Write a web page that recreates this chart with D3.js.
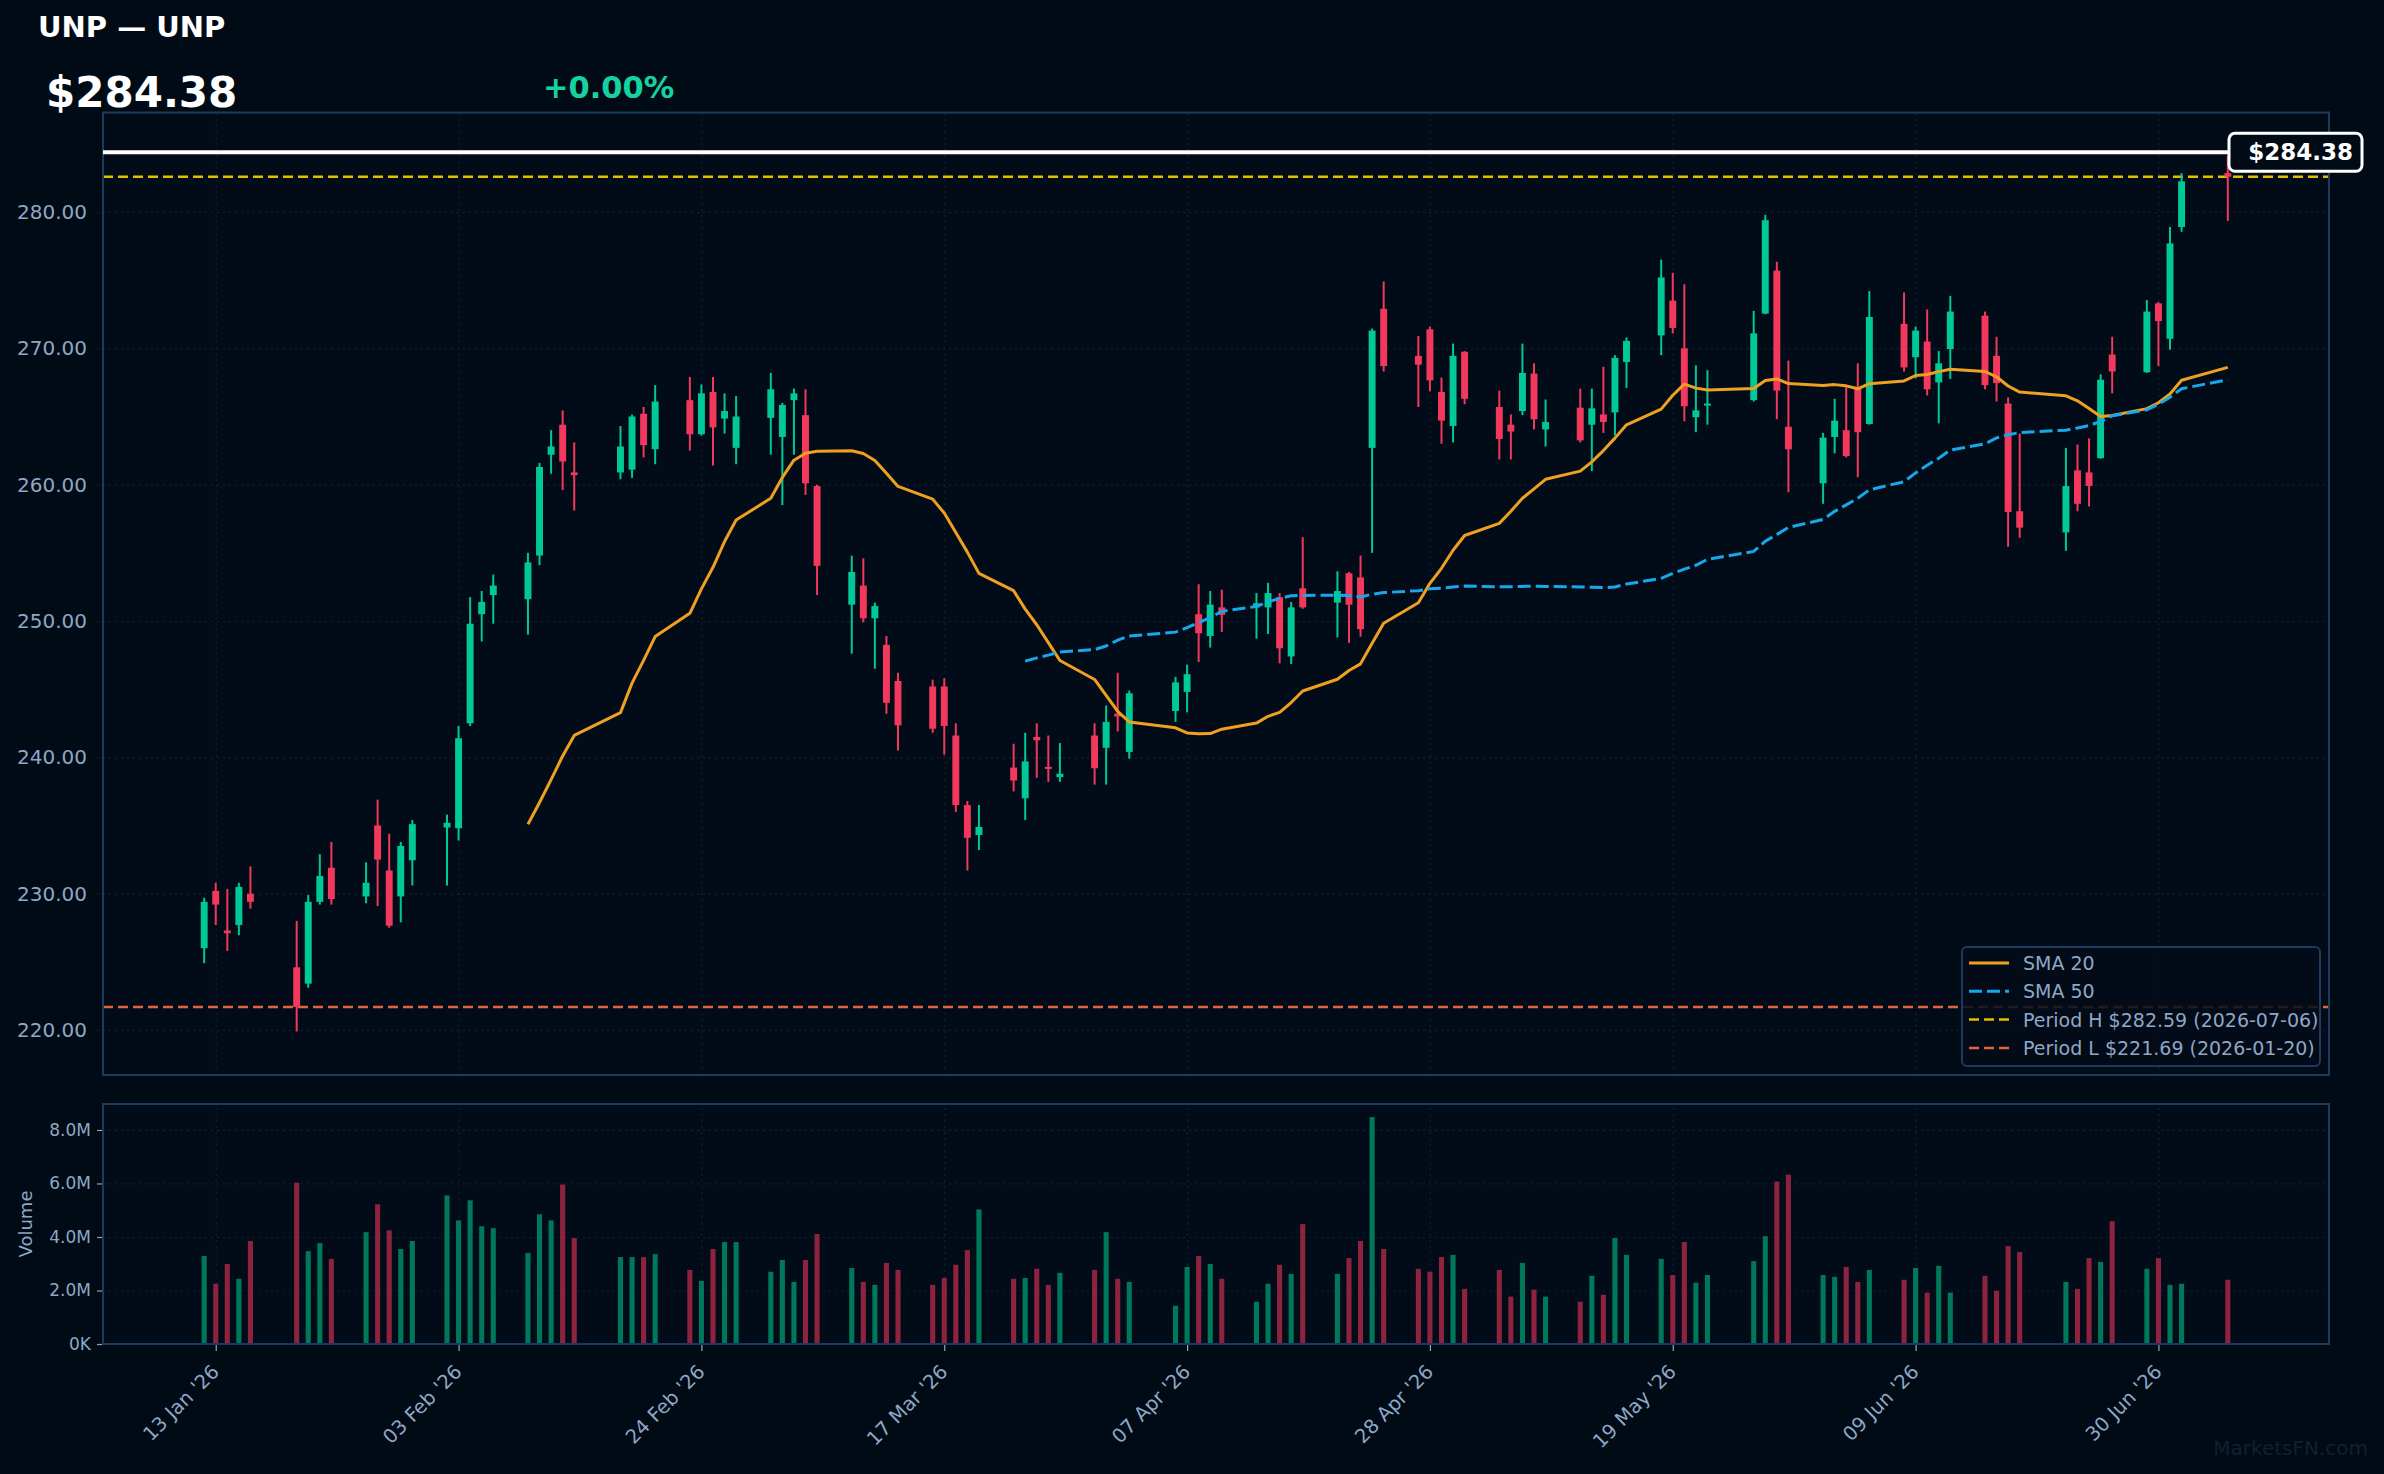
<!DOCTYPE html>
<html><head><meta charset="utf-8">
<script src="https://cdn.jsdelivr.net/npm/d3@7"></script>
<style>html,body{margin:0;padding:0;background:#010b16;}svg{display:block;}</style>
</head><body>
<svg id="chart" width="2384" height="1474"></svg>
<script>
// ---------- data ----------
const dates = [
"2026-01-12","2026-01-13","2026-01-14","2026-01-15","2026-01-16","2026-01-20","2026-01-21","2026-01-22","2026-01-23",
"2026-01-26","2026-01-27","2026-01-28","2026-01-29","2026-01-30",
"2026-02-02","2026-02-03","2026-02-04","2026-02-05","2026-02-06","2026-02-09","2026-02-10","2026-02-11","2026-02-12","2026-02-13",
"2026-02-17","2026-02-18","2026-02-19","2026-02-20","2026-02-23","2026-02-24","2026-02-25","2026-02-26","2026-02-27",
"2026-03-02","2026-03-03","2026-03-04","2026-03-05","2026-03-06","2026-03-09","2026-03-10","2026-03-11","2026-03-12","2026-03-13",
"2026-03-16","2026-03-17","2026-03-18","2026-03-19","2026-03-20","2026-03-23","2026-03-24","2026-03-25","2026-03-26","2026-03-27",
"2026-03-30","2026-03-31","2026-04-01","2026-04-02",
"2026-04-06","2026-04-07","2026-04-08","2026-04-09","2026-04-10","2026-04-13","2026-04-14","2026-04-15","2026-04-16","2026-04-17",
"2026-04-20","2026-04-21","2026-04-22","2026-04-23","2026-04-24","2026-04-27","2026-04-28","2026-04-29","2026-04-30","2026-05-01",
"2026-05-04","2026-05-05","2026-05-06","2026-05-07","2026-05-08","2026-05-11","2026-05-12","2026-05-13","2026-05-14","2026-05-15",
"2026-05-18","2026-05-19","2026-05-20","2026-05-21","2026-05-22","2026-05-26","2026-05-27","2026-05-28","2026-05-29",
"2026-06-01","2026-06-02","2026-06-03","2026-06-04","2026-06-05","2026-06-08","2026-06-09","2026-06-10","2026-06-11","2026-06-12",
"2026-06-15","2026-06-16","2026-06-17","2026-06-18","2026-06-22","2026-06-23","2026-06-24","2026-06-25","2026-06-26",
"2026-06-29","2026-06-30","2026-07-01","2026-07-02","2026-07-06"];

const open = [226.0,230.2,227.3,227.7,230.0,224.6,223.4,229.4,231.9,229.8,235.0,231.7,229.8,232.45,
234.85,234.8,242.5,250.5,251.9,251.6,254.8,262.2,264.4,260.9,260.9,261.1,265.2,262.6,266.2,263.7,266.8,264.85,262.7,
264.9,263.5,266.2,265.1,259.9,251.2,252.6,250.2,248.25,245.6,245.2,245.2,241.6,236.5,234.3,239.25,237.0,241.5,239.3,238.55,241.6,240.7,
243.2,240.4,243.4,244.8,250.5,248.9,251.0,251.0,251.0,251.75,247.4,252.4,251.35,253.5,253.2,262.7,272.9,269.45,271.4,266.8,264.3,
269.75,265.7,264.4,265.4,268.15,264.05,265.65,264.4,265.15,265.3,269.0,270.95,273.5,270.0,264.95,265.85,266.2,272.55,275.7,264.25,
260.1,263.5,264.0,267.15,264.45,271.8,269.35,270.5,267.5,269.95,272.4,269.45,265.95,258.05,256.5,261.05,260.9,261.95,269.55,
268.25,273.3,270.7,278.9,282.85];
const high = [229.7,230.8,230.35,230.8,232.0,228.0,229.9,232.9,233.8,232.3,236.9,234.4,233.8,235.4,
235.8,242.3,251.75,252.2,253.4,255.0,261.6,264.0,265.45,263.1,264.3,265.15,265.7,267.3,267.9,267.35,267.9,266.7,266.5,
268.2,266.0,267.05,267.0,260.0,254.8,254.6,251.35,248.9,246.2,245.7,245.8,242.5,236.8,236.5,241.0,241.8,242.5,241.6,241.05,242.5,243.8,
246.2,244.9,245.9,246.8,252.7,252.2,252.3,252.05,252.8,252.05,251.4,256.15,253.65,253.6,254.8,271.45,274.9,270.9,271.6,267.85,270.35,
269.8,266.9,265.15,270.35,268.9,266.25,267.05,267.05,268.65,269.5,270.8,276.5,275.55,274.7,268.75,268.4,272.75,279.8,276.35,269.1,
263.8,266.3,267.3,268.9,274.2,274.1,271.6,272.85,269.8,273.85,272.7,270.85,266.4,263.75,262.7,262.95,263.4,268.1,270.85,
273.55,273.4,278.9,282.85,284.1];
const low = [224.9,227.7,225.8,226.95,228.9,219.9,223.1,229.2,229.2,229.3,229.1,227.5,227.9,230.6,
230.6,233.9,242.3,248.5,249.8,249.0,254.1,260.8,259.6,258.1,260.4,260.5,262.0,261.5,262.5,263.6,261.4,263.75,261.5,
262.2,258.5,262.2,259.25,251.9,247.6,249.9,246.5,243.2,240.5,241.8,240.2,236.0,231.7,233.2,237.5,235.4,238.5,238.2,238.2,238.0,238.0,
241.9,239.9,242.6,243.3,247.0,248.05,249.2,248.7,249.05,246.9,246.85,250.9,248.8,248.4,248.85,255.0,268.3,265.7,266.85,263.0,263.1,
265.9,261.85,261.85,265.1,264.05,262.8,263.1,261.0,263.8,263.6,267.1,269.5,271.1,264.65,263.85,264.4,266.1,272.5,264.8,259.45,
258.6,262.3,262.0,260.55,264.4,268.3,267.8,266.55,264.5,267.75,267.0,266.1,255.45,256.1,255.15,258.05,258.4,261.9,266.7,
268.2,268.7,269.9,278.55,279.35];
const close = [229.4,229.2,227.1,230.5,229.4,221.69,229.4,231.3,229.6,230.8,232.5,227.65,233.5,235.1,
235.2,241.4,249.8,251.4,252.6,254.3,261.3,262.8,261.7,260.7,262.8,265.0,262.9,266.1,263.7,266.7,264.2,265.4,265.0,
267.0,265.85,266.7,260.1,254.05,253.6,250.2,251.1,244.0,242.35,242.1,242.3,236.5,234.1,234.9,238.3,239.7,241.25,239.15,238.8,239.2,242.6,
243.0,244.7,245.5,246.1,249.1,251.2,250.45,251.3,252.05,248.0,251.0,251.0,252.2,251.2,249.4,271.3,268.7,268.8,267.65,264.7,269.45,
266.3,263.35,263.9,268.2,264.8,264.6,263.25,265.6,264.6,269.3,270.55,275.2,271.5,265.75,265.45,265.95,271.1,279.4,266.9,262.6,
263.45,264.7,262.1,263.85,272.3,268.6,271.3,267.0,268.9,272.7,267.3,267.45,258.0,256.85,259.9,258.6,259.9,267.7,268.3,
272.7,272.0,277.7,282.25,282.59];
// volume in millions
const volume = [3.29,2.25,2.99,2.44,3.85,6.03,3.47,3.77,3.18,4.18,5.22,4.25,3.55,3.85,
5.55,4.62,5.37,4.40,4.33,3.40,4.85,4.62,5.96,3.96,3.25,3.25,3.25,3.36,2.77,2.36,3.55,3.81,3.81,
2.70,3.14,2.32,3.14,4.11,2.84,2.32,2.21,3.03,2.77,2.21,2.47,2.96,3.51,5.03,2.44,2.47,2.81,2.21,2.66,2.77,4.18,
2.44,2.32,1.43,2.88,3.29,2.99,2.44,1.58,2.25,2.96,2.62,4.48,2.62,3.21,3.85,8.48,3.55,2.81,2.70,3.25,3.33,
2.06,2.77,1.77,3.03,2.03,1.77,1.58,2.55,1.84,3.96,3.33,3.18,2.58,3.81,2.29,2.58,3.10,4.03,6.07,6.33,
2.58,2.51,2.88,2.32,2.77,2.40,2.84,1.92,2.92,1.92,2.55,1.99,3.66,3.44,2.32,2.06,3.21,3.07,4.59,
2.81,3.21,2.21,2.25,2.40];

const xTickDates = ["2026-01-13","2026-02-03","2026-02-24","2026-03-17","2026-04-07","2026-04-28","2026-05-19","2026-06-09","2026-06-30"];
const xTickLabels = ["13 Jan '26","03 Feb '26","24 Feb '26","17 Mar '26","07 Apr '26","28 Apr '26","19 May '26","09 Jun '26","30 Jun '26"];
const priceTicks = [220,230,240,250,260,270,280];
const volTicks = [0,2,4,6,8];
const volTickLabels = ["0K","2.0M","4.0M","6.0M","8.0M"];

const lastPrice = 284.38;
const periodHigh = 282.59, periodHighDate = "2026-07-06";
const periodLow = 221.69, periodLowDate = "2026-01-20";

// ---------- setup ----------
const C = {bg:"#010b16", frame:"#1d3a5e", grid:"#122031", text:"#8fa7c5", up:"#00c896", down:"#f2385c",
  sma20:"#f0a020", sma50:"#16a8ea", hi:"#e2c000", lo:"#e4653a"};
const svg = d3.select("#chart");
const parse = d3.utcParse("%Y-%m-%d");
const D = dates.map(parse);
const DAY = 864e5;
const PL = 103, PR = 2329, PT = 112.5, PB = 1075, VT = 1104, VB = 1344;

const x = d3.scaleUtc().domain([new Date(+D[0]-8.75*DAY), new Date(+D[D.length-1]+8.75*DAY)]).range([PL, PR]);
const y = d3.scaleLinear().domain([216.7, 287.3]).range([PB, PT]);
const yv = d3.scaleLinear().domain([0, 8.97]).range([VB, VT]);

svg.append("rect").attr("width",2384).attr("height",1474).attr("fill",C.bg);
svg.append("rect").attr("x",PL).attr("y",PT).attr("width",PR-PL).attr("height",PB-PT).attr("fill","#020c18");
svg.append("rect").attr("x",PL).attr("y",VT).attr("width",PR-PL).attr("height",VB-VT).attr("fill","#020c18");

const tickD = xTickDates.map(parse);
function styleGrid(g){ g.select(".domain").remove(); g.selectAll("line").attr("stroke",C.grid).attr("stroke-width",1.2).attr("stroke-dasharray","2,4"); g.selectAll("text").remove(); }
// grids
svg.append("g").attr("transform",`translate(0,${PB})`).call(d3.axisBottom(x).tickValues(tickD).tickSize(-(PB-PT)).tickFormat("")).call(styleGrid);
svg.append("g").attr("transform",`translate(0,${VB})`).call(d3.axisBottom(x).tickValues(tickD).tickSize(-(VB-VT)).tickFormat("")).call(styleGrid);
svg.append("g").attr("transform",`translate(${PL},0)`).call(d3.axisLeft(y).tickValues(priceTicks).tickSize(-(PR-PL)).tickFormat("")).call(styleGrid);
svg.append("g").attr("transform",`translate(${PL},0)`).call(d3.axisLeft(yv).tickValues(volTicks).tickSize(-(PR-PL)).tickFormat("")).call(styleGrid);

// axes labels
const ya = svg.append("g").attr("transform",`translate(${PL},0)`)
  .call(d3.axisLeft(y).tickValues(priceTicks).tickSize(7).tickPadding(9).tickFormat(d3.format(".2f")));
ya.select(".domain").remove();
ya.selectAll("line").attr("stroke","#0b1520").attr("stroke-width",1.5);
ya.selectAll("text").attr("fill",C.text).attr("font-size",20).attr("font-family","DejaVu Sans");

const va = svg.append("g").attr("transform",`translate(${PL},0)`)
  .call(d3.axisLeft(yv).tickValues(volTicks).tickSize(6).tickPadding(6).tickFormat((d,i)=>volTickLabels[i]));
va.select(".domain").remove();
va.selectAll("line").attr("stroke",C.text).attr("stroke-width",1.2);
va.selectAll("text").attr("fill",C.text).attr("font-size",17).attr("font-family","DejaVu Sans");

const xa = svg.append("g").attr("transform",`translate(0,${VB})`)
  .call(d3.axisBottom(x).tickValues(tickD).tickSize(7).tickFormat((d,i)=>xTickLabels[i]));
xa.select(".domain").remove();
xa.selectAll("line").attr("stroke",C.text).attr("stroke-width",1.2);
xa.selectAll("text").attr("fill",C.text).attr("font-size",19.5).attr("font-family","DejaVu Sans")
  .attr("text-anchor","end").attr("dy",null).attr("y",0).attr("x",0)
  .attr("transform","translate(4,29) rotate(-45)");

svg.append("text").attr("transform",`translate(32,${(VT+VB)/2}) rotate(-90)`).attr("text-anchor","middle")
  .attr("fill",C.text).attr("font-size",18).attr("font-family","DejaVu Sans").text("Volume");

// volume bars
const vbw = x(new Date(+D[0]+0.22*DAY)) - x(new Date(+D[0]-0.22*DAY));
svg.append("g").selectAll("rect").data(volume).join("rect")
  .attr("x",(v,i)=>x(D[i])-vbw/2).attr("width",vbw)
  .attr("y",v=>yv(v)).attr("height",v=>yv(0)-yv(v))
  .attr("fill",(v,i)=> close[i]>=open[i] ? "#00785a" : "#8e2340");

// period lines
svg.append("line").attr("x1",PL).attr("x2",PR).attr("y1",y(periodLow)).attr("y2",y(periodLow))
  .attr("stroke",C.lo).attr("stroke-width",2.5).attr("stroke-dasharray","10,5");
svg.append("line").attr("x1",PL).attr("x2",PR).attr("y1",y(periodHigh)).attr("y2",y(periodHigh))
  .attr("stroke",C.hi).attr("stroke-width",2.5).attr("stroke-dasharray","10,5");

// candles
const bw = x(new Date(+D[0]+0.3*DAY)) - x(new Date(+D[0]-0.3*DAY));
const cg = svg.append("g");
cg.selectAll("line").data(dates).join("line")
  .attr("x1",(d,i)=>x(D[i])).attr("x2",(d,i)=>x(D[i]))
  .attr("y1",(d,i)=>y(high[i])).attr("y2",(d,i)=>y(low[i]))
  .attr("stroke",(d,i)=>close[i]>=open[i]?C.up:C.down).attr("stroke-width",2);
cg.selectAll("rect").data(dates).join("rect")
  .attr("x",(d,i)=>x(D[i])-bw/2).attr("width",bw)
  .attr("y",(d,i)=>y(Math.max(open[i],close[i])))
  .attr("height",(d,i)=>Math.max(2, Math.abs(y(open[i])-y(close[i]))))
  .attr("fill",(d,i)=>close[i]>=open[i]?C.up:C.down);

// moving averages of close
function sma(n){ return close.map((c,i)=> i<n-1 ? null : d3.mean(close.slice(i-n+1,i+1))); }
const s20 = sma(20), s50 = sma(50);
const line = d3.line().defined(d=>d[1]!=null).x(d=>x(d[0])).y(d=>y(d[1]));
svg.append("path").attr("d",line(D.map((d,i)=>[d,s20[i]]))).attr("fill","none")
  .attr("stroke",C.sma20).attr("stroke-width",3).attr("stroke-linejoin","round");
svg.append("path").attr("d",line(D.map((d,i)=>[d,s50[i]]))).attr("fill","none")
  .attr("stroke",C.sma50).attr("stroke-width",3).attr("stroke-dasharray","13,5");

// frames
svg.append("rect").attr("x",PL).attr("y",PT).attr("width",PR-PL).attr("height",PB-PT).attr("fill","none").attr("stroke",C.frame).attr("stroke-width",2);
svg.append("rect").attr("x",PL).attr("y",VT).attr("width",PR-PL).attr("height",VB-VT).attr("fill","none").attr("stroke",C.frame).attr("stroke-width",2);

// last price line + label
const yl = y(lastPrice);
svg.append("line").attr("x1",PL).attr("x2",2230).attr("y1",yl).attr("y2",yl).attr("stroke","#ffffff").attr("stroke-width",4);
svg.append("rect").attr("x",2229).attr("y",yl-19).attr("width",133).attr("height",38).attr("rx",6)
  .attr("fill",C.bg).attr("stroke","#ffffff").attr("stroke-width",3);
svg.append("text").attr("x",2353).attr("y",yl+8).attr("text-anchor","end").attr("fill","#ffffff")
  .attr("font-size",23).attr("font-weight","bold").attr("font-family","DejaVu Sans").text("$"+lastPrice.toFixed(2));

// legend
const lg = svg.append("g");
lg.append("rect").attr("x",1962).attr("y",947).attr("width",358).attr("height",119).attr("rx",5)
  .attr("fill","#020c18").attr("fill-opacity",0.85).attr("stroke",C.frame).attr("stroke-width",2);
const legendItems = [
  {label:"SMA 20", color:C.sma20, dash:null, w:3},
  {label:"SMA 50", color:C.sma50, dash:"13,5", w:3},
  {label:`Period H $${periodHigh.toFixed(2)} (${periodHighDate})`, color:C.hi, dash:"10,5", w:2.5},
  {label:`Period L $${periodLow.toFixed(2)} (${periodLowDate})`, color:C.lo, dash:"10,5", w:2.5}];
legendItems.forEach((it,i)=>{
  const yy = 963 + i*28.3;
  lg.append("line").attr("x1",1969).attr("x2",2009).attr("y1",yy).attr("y2",yy)
    .attr("stroke",it.color).attr("stroke-width",it.w).attr("stroke-dasharray",it.dash);
  lg.append("text").attr("x",2023).attr("y",yy+7).attr("fill",C.text).attr("font-size",19)
    .attr("font-family","DejaVu Sans").text(it.label);
});

// header
svg.append("text").attr("x",38).attr("y",37).attr("fill","#ffffff").attr("font-size",29).attr("font-weight","bold")
  .attr("font-family","DejaVu Sans").text("UNP — UNP");
svg.append("text").attr("x",46).attr("y",107).attr("fill","#ffffff").attr("font-size",42).attr("font-weight","bold")
  .attr("font-family","DejaVu Sans").text("$"+lastPrice.toFixed(2));
svg.append("text").attr("x",543).attr("y",98).attr("fill","#14d3a0").attr("font-size",30.5).attr("font-weight","bold")
  .attr("font-family","DejaVu Sans").text("+0.00%");

// watermark
svg.append("text").attr("x",2368).attr("y",1455).attr("text-anchor","end").attr("fill","#112031")
  .attr("font-size",20).attr("font-family","DejaVu Sans").text("MarketsFN.com");
</script>
</body></html>
